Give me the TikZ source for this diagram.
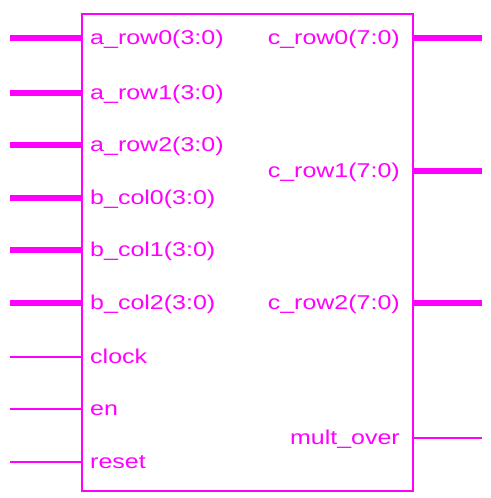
\documentclass[tikz,border=0pt]{standalone}
\usepackage{fontspec}
\setmainfont{Liberation Sans}
\definecolor{mg}{HTML}{FF00FF}
\newcommand{\lbl}[1]{\scalebox{1.25}[1]{#1}}
\begin{document}
\begin{tikzpicture}[x=1pt,y=-1pt,
  bus/.style={draw=mg,line width=5.5pt},
  sig/.style={draw=mg,line width=1.3pt},
  inl/.style={anchor=base west,inner sep=0pt,text=mg,font=\fontsize{20}{22}\selectfont},
  outl/.style={anchor=base east,inner sep=0pt,text=mg,font=\fontsize{20}{22}\selectfont}]
\useasboundingbox (0,0) rectangle (490,498);
\node[draw=mg,line width=1.5pt,minimum width=331pt,minimum height=477pt,inner sep=0pt,anchor=north west] (box) at (81,13) {};
% left inputs
\foreach \n/\y/\t/\s in {ar0/38/a\_row0(3:0)/bus, ar1/93/a\_row1(3:0)/bus, ar2/145/a\_row2(3:0)/bus,
  bc0/198/b\_col0(3:0)/bus, bc1/250/b\_col1(3:0)/bus, bc2/303/b\_col2(3:0)/bus,
  clk/357/clock/sig, en/409/en/sig, rst/462/reset/sig}{
  \coordinate (\n-end) at (10,\y);
  \coordinate (\n-pin) at (box.west |- 0,\y);
  \draw[\s] (\n-end) -- (\n-pin);
  \node[inl] (\n-lbl) at (90,\y+6.5) {\lbl{\t}};
}
% right outputs
\foreach \n/\y/\t/\s in {cr0/38/c\_row0(7:0)/bus, cr1/171/c\_row1(7:0)/bus, cr2/303/c\_row2(7:0)/bus, mo/438/mult\_over/sig}{
  \coordinate (\n-end) at (482,\y);
  \coordinate (\n-pin) at (box.east |- 0,\y);
  \draw[\s] (\n-pin) -- (\n-end);
  \node[outl] (\n-lbl) at (400,\y+6.5) {\lbl{\t}};
}
\end{tikzpicture}
\end{document}
